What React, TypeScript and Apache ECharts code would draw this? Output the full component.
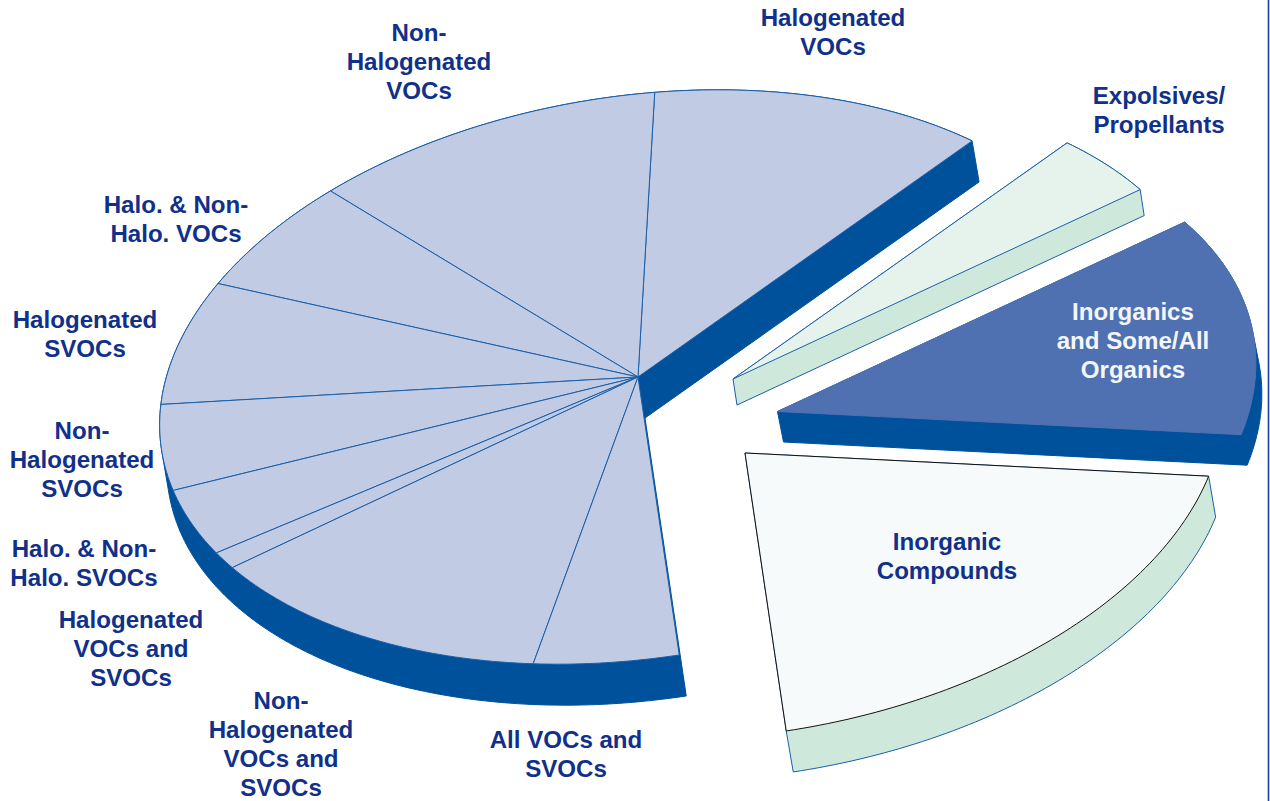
import React, { useEffect, useRef } from "react";
import * as echarts from "echarts";

// Slices, in drawing order, counter-clockwise on screen from the top-right cut.
const sliceNames = [
  "Halogenated\nVOCs",
  "Non-\nHalogenated\nVOCs",
  "Halo. & Non-\nHalo. VOCs",
  "Halogenated\nSVOCs",
  "Non-\nHalogenated\nSVOCs",
  "Halo. & Non-\nHalo. SVOCs",
  "Halogenated\nVOCs and\nSVOCs",
  "Non-\nHalogenated\nVOCs and\nSVOCs",
  "All VOCs and\nSVOCs",
  "Inorganic\nCompounds",
  "Inorganics\nand Some/All\nOrganics",
  "Expolsives/\nPropellants",
];
const sliceShares = [11.75, 11.67, 5.94, 6.8, 4.94, 4.03, 1.06, 12.6, 4.89, 19.67, 12.75, 3.9];

// Layout of the pseudo-3D pie (not data)
const CENTER = [638, 377];
const SEMI_A = 482;
const SEMI_B = 281;
const TILT = (-8.7 * Math.PI) / 180;
const START_ANGLE = -40.6;
const MAIN = { dx: 0, dy: 0, depth: [7, 41], top: "#c2cbe4", side: "#00519b", line: "#1a5fa8", sideLine: "#00519b" };
const looks = [
  MAIN, MAIN, MAIN, MAIN, MAIN, MAIN, MAIN, MAIN, MAIN,
  { dx: 107, dy: 76, depth: [7, 41], top: "#f6fafa", side: "#cfe8dc", line: "#111111", sideLine: "#1a5fa8" },
  { dx: 139.5, dy: 34.5, depth: [6, 30.5], top: "#4f71b1", side: "#00519b", line: "#4f71b1", sideLine: "#00519b" },
  { dx: 95, dy: 2, depth: [4, 26], top: "#e6f3ec", side: "#cfe8dc", line: "#1a5fa8", sideLine: "#1a5fa8" },
];
const labelPlaces = [
  [833, 17.7], [419, 32.7], [176, 204.7], [85, 319.7], [82, 430.7], [84, 548.7],
  [131, 619.7], [281, 700.7], [566, 739.7], [947, 541.7], [1133, 311.7], [1159, 95.7],
];
const labelColors = sliceNames.map((n) => (n.startsWith("Inorganics") ? "#f4f6fb" : "#10308a"));
const LINE_HEIGHT = 28.8;

function rimPoint(deg: number, cx: number, cy: number) {
  const t = (deg * Math.PI) / 180;
  const u = SEMI_A * Math.cos(t);
  const v = SEMI_B * Math.sin(t);
  return [cx + u * Math.cos(TILT) - v * Math.sin(TILT), cy + u * Math.sin(TILT) + v * Math.cos(TILT)];
}

function sectorPoints(index: number) {
  const look = looks[index];
  const total = sliceShares.reduce((a, b) => a + b, 0);
  const before = sliceShares.slice(0, index).reduce((a, b) => a + b, 0);
  const from = START_ANGLE - (before / total) * 360;
  const to = from - (sliceShares[index] / total) * 360;
  const cx = CENTER[0] + look.dx;
  const cy = CENTER[1] + look.dy;
  const pts = [[cx, cy]];
  const steps = Math.max(8, Math.ceil(Math.abs(to - from)));
  for (let i = 0; i <= steps; i++) pts.push(rimPoint(from + ((to - from) * i) / steps, cx, cy));
  return pts;
}

function convexHull(points: number[][]) {
  const p = points.slice().sort((a, b) => a[0] - b[0] || a[1] - b[1]);
  const cross = (o: number[], a: number[], b: number[]) =>
    (a[0] - o[0]) * (b[1] - o[1]) - (a[1] - o[1]) * (b[0] - o[0]);
  const lower: number[][] = [];
  for (const q of p) {
    while (lower.length >= 2 && cross(lower[lower.length - 2], lower[lower.length - 1], q) <= 0) lower.pop();
    lower.push(q);
  }
  const upper: number[][] = [];
  for (let i = p.length - 1; i >= 0; i--) {
    const q = p[i];
    while (upper.length >= 2 && cross(upper[upper.length - 2], upper[upper.length - 1], q) <= 0) upper.pop();
    upper.push(q);
  }
  lower.pop();
  upper.pop();
  return lower.concat(upper);
}

function renderSide(params: any) {
  const i = params.dataIndex;
  const look = looks[i];
  const top = sectorPoints(i);
  const shifted = top.map((p) => [p[0] + look.depth[0], p[1] + look.depth[1]]);
  return {
    type: "polygon",
    shape: { points: convexHull(top.concat(shifted)) },
    style: { fill: look.side, stroke: look.sideLine, lineWidth: 1 },
  };
}

function renderTop(params: any) {
  const i = params.dataIndex;
  const look = looks[i];
  return {
    type: "polygon",
    shape: { points: sectorPoints(i) },
    style: { fill: look.top, stroke: look.line, lineWidth: 1, lineJoin: "round" },
  };
}

export default function App() {
  const ref = useRef<HTMLDivElement>(null);
  useEffect(() => {
    document.body.style.margin = "0";
    document.body.style.background = "#ffffff";
    const chart = echarts.init(ref.current!, undefined, { renderer: "svg" });
    const data = sliceShares.map((v, i) => ({ name: sliceNames[i], value: v }));
    chart.setOption({
      animation: false,
      backgroundColor: "#ffffff",
      series: [
        { type: "custom", coordinateSystem: "none", silent: true, z: 1, data, renderItem: renderSide },
        { type: "custom", coordinateSystem: "none", silent: true, z: 2, data, renderItem: renderTop },
      ],
      graphic: [
        {
          type: "line",
          z: 5,
          shape: { x1: 1268.5, y1: 0, x2: 1268.5, y2: 801 },
          style: { stroke: "#1a3fae", lineWidth: 1.6 },
        },
        ...sliceNames.flatMap((name, i) =>
          name.split("\n").map((line, k) => ({
            type: "text",
            z: 10,
            x: labelPlaces[i][0],
            y: labelPlaces[i][1] + k * LINE_HEIGHT,
            style: {
              text: line,
              fill: labelColors[i],
              font: 'bold 24.1px "Liberation Sans", Arial, sans-serif',
              textAlign: "center",
              textVerticalAlign: "middle",
            },
          }))
        ),
      ],
    });
    return () => chart.dispose();
  }, []);
  return <div ref={ref} style={{ position: "absolute", left: 0, top: 0, width: 1270, height: 801 }} />;
}
